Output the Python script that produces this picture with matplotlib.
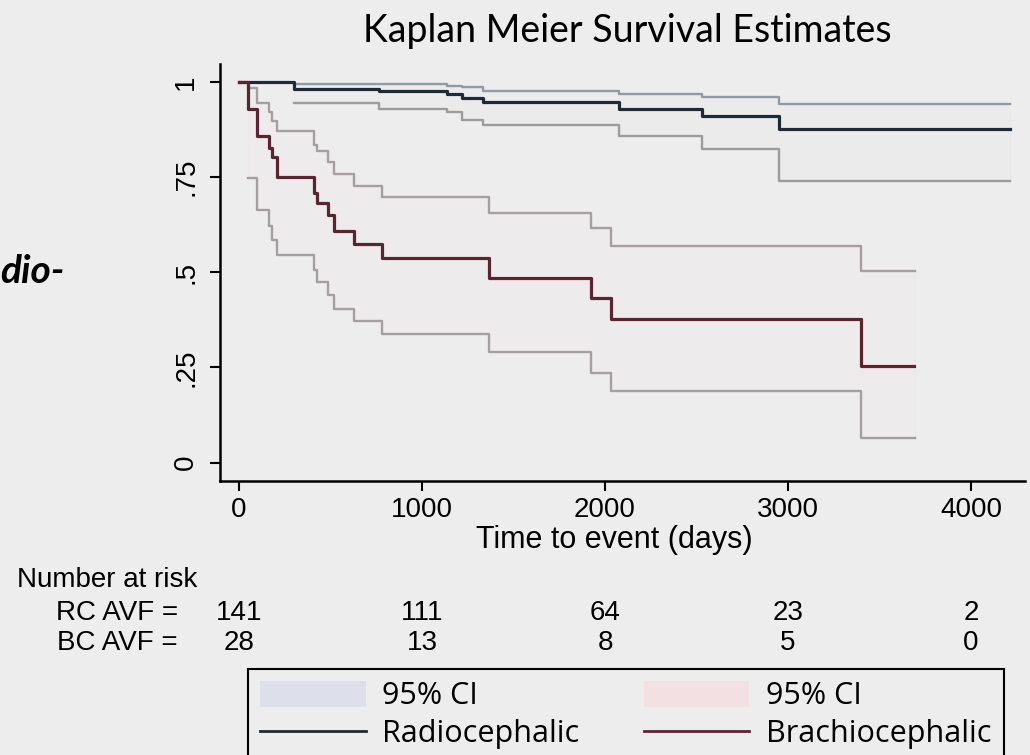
import numpy as np
import matplotlib
matplotlib.use("Agg")
from matplotlib import pyplot as plt
from matplotlib import transforms
from matplotlib.patches import Patch
from matplotlib.lines import Line2D

# Kaplan-Meier steps (time in days, survival)
rc_time = [0, 300, 765, 1135, 1217, 1332, 2077, 2532, 2951, 4213]
rc_surv = [1.0, 0.981, 0.976, 0.967, 0.959, 0.948, 0.929, 0.911, 0.876, 0.876]
rc_ci_time = [300, 765, 1135, 1217, 1332, 2077, 2532, 2951, 4213]
rc_ci_hi = [0.995, 0.995, 0.990, 0.986, 0.976, 0.967, 0.960, 0.942, 0.942]
rc_ci_lo = [0.944, 0.929, 0.920, 0.900, 0.887, 0.859, 0.823, 0.741, 0.741]

bc_time = [0, 47, 96, 164, 179, 209, 410, 424, 488, 519, 628, 780, 1366, 1922, 2031, 3399, 3690]
bc_surv = [1.0, 0.929, 0.858, 0.826, 0.804, 0.751, 0.707, 0.681, 0.650, 0.608, 0.574, 0.538,
           0.484, 0.432, 0.377, 0.254, 0.254]
bc_ci_time = [47, 96, 164, 179, 209, 410, 424, 488, 519, 628, 780, 1366, 1922, 2031, 3399, 3694]
bc_ci_hi = [0.985, 0.944, 0.922, 0.896, 0.871, 0.835, 0.819, 0.790, 0.758, 0.727, 0.699,
            0.657, 0.617, 0.570, 0.503, 0.503]
bc_ci_lo = [0.747, 0.664, 0.622, 0.585, 0.545, 0.506, 0.475, 0.440, 0.403, 0.373, 0.338,
            0.291, 0.236, 0.189, 0.064, 0.064]

# number at risk table
risk_times = [0, 1000, 2000, 3000, 4000]
rc_risk = [141, 111, 64, 23, 2]
bc_risk = [28, 13, 8, 5, 0]

xticks = [0, 1000, 2000, 3000, 4000]
yticks = [0, 0.25, 0.5, 0.75, 1]
ytick_labels = ["0", ".25", ".5", ".75", "1"]

bg = "#ededed"
stata = ["Liberation Sans", "DejaVu Sans"]
W, H = 1030, 755

fig = plt.figure(figsize=(W / 100, H / 100), dpi=100, facecolor=bg)
ax = fig.add_axes([220 / W, 1 - 480.7 / H, 805 / W, 416.7 / H], facecolor=bg)

# CI areas (nearly invisible fill), then the CI bounds and the estimates
ax.fill_between(rc_ci_time, rc_ci_lo, rc_ci_hi, step="post", facecolor="#dde0ea", alpha=0.12,
                edgecolor="#d8d8d8", linewidth=1)
ax.fill_between(bc_ci_time, bc_ci_lo, bc_ci_hi, step="post", facecolor="#f3e0e2", alpha=0.12,
                edgecolor="#ddd7d7", linewidth=1)
ax.plot(rc_ci_time, rc_ci_hi, drawstyle="steps-post", color="#8f9aa4", lw=1.7)
ax.plot(rc_ci_time, rc_ci_lo, drawstyle="steps-post", color="#9a9c9e", lw=1.7)
ax.plot(bc_ci_time, bc_ci_hi, drawstyle="steps-post", color="#a89ea1", lw=1.7)
ax.plot(bc_ci_time, bc_ci_lo, drawstyle="steps-post", color="#a59fa1", lw=1.7)
ax.plot(rc_time, rc_surv, drawstyle="steps-post", color="#1e2a36", lw=2.3)
ax.plot(bc_time, bc_surv, drawstyle="steps-post", color="#5a2431", lw=2.3)

ax.set_xlim(-104, 4295)
ax.set_ylim(-0.0473, 1.047)
for s in ["top", "right"]:
    ax.spines[s].set_visible(False)
for s in ["left", "bottom"]:
    ax.spines[s].set_linewidth(1.8)
    ax.spines[s].set_color("black")
ax.set_xticks(xticks)
ax.set_xticklabels([str(x) for x in xticks], fontfamily=stata, fontsize=20)
ax.set_yticks(yticks)
ax.set_yticklabels(ytick_labels, fontfamily=stata, fontsize=20, rotation=90, va="center")
ax.tick_params(axis="both", length=7, width=1.5, color="black")
ax.tick_params(axis="x", pad=5)
ax.tick_params(axis="y", pad=8)
ax.set_xlabel("Time to event (days)", fontfamily=stata, fontsize=22, labelpad=1)
ax.xaxis.label.set_x(0.49)

fig.text(627 / W, 1 - 31 / H, "Kaplan Meier Survival Estimates", ha="center", va="center",
         fontfamily=["Lato", "DejaVu Sans"], fontsize=27)
fig.text(0, 1 - 272 / H, "dio-", ha="left", va="center",
         fontfamily=["Lato", "DejaVu Sans"], fontsize=28, fontweight="bold", fontstyle="italic")

# number at risk rows, x in data units, y in figure units
tr = transforms.blended_transform_factory(ax.transData, fig.transFigure)
fig.text(17 / W, 1 - 580 / H, "Number at risk", ha="left", va="center", fontfamily=stata, fontsize=20)
fig.text(178 / W, 1 - 613 / H, "RC AVF =", ha="right", va="center", fontfamily=stata, fontsize=20)
fig.text(178 / W, 1 - 643 / H, "BC AVF =", ha="right", va="center", fontfamily=stata, fontsize=20)
for t, a, b in zip(risk_times, rc_risk, bc_risk):
    ax.text(t, 1 - 613 / H, str(a), transform=tr, ha="center", va="center", fontfamily=stata, fontsize=20)
    ax.text(t, 1 - 643 / H, str(b), transform=tr, ha="center", va="center", fontfamily=stata, fontsize=20)

handles = [Patch(facecolor="#dde0ea", edgecolor="none"),
           Line2D([], [], color="#1e2a36", lw=2),
           Patch(facecolor="#f3e0e2", edgecolor="none"),
           Line2D([], [], color="#5a2431", lw=2)]
labels = ["95% CI", "Radiocephalic", "95% CI", "Brachiocephalic"]
leg = fig.legend(handles, labels, ncol=2, loc="upper left", bbox_to_anchor=(248 / W, 1 - 669 / H),
                 bbox_transform=fig.transFigure, borderaxespad=0, borderpad=0.4,
                 handlelength=3.45, handleheight=0.9, handletextpad=0.55, columnspacing=2.1,
                 labelspacing=0.25, fancybox=False, framealpha=1, facecolor=bg, edgecolor="black",
                 prop={"family": ["Open Sans", "DejaVu Sans"], "size": 22})
leg.get_frame().set_linewidth(1.5)

fig.savefig("out.png", dpi=100, facecolor=bg)
